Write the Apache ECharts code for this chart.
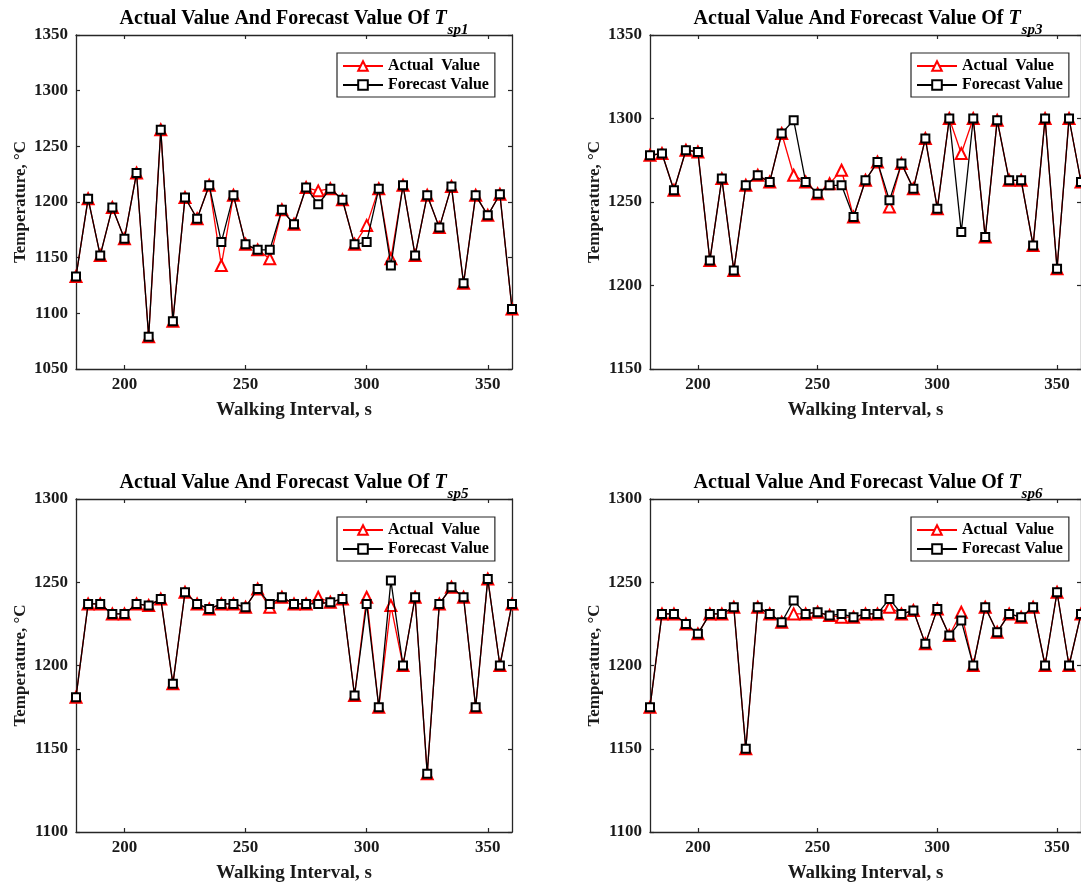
<!DOCTYPE html>
<html><head><meta charset="utf-8">
<script src="https://cdn.jsdelivr.net/npm/echarts@6/dist/echarts.min.js"></script>
<style>html,body{margin:0;padding:0;background:#fff}#c{width:1081px;height:886px}</style>
</head><body><div id="c"></div>
<script>
// ---- data ----
const walkTime = [180,185,190,195,200,205,210,215,220,225,230,235,240,245,250,255,260,265,270,275,280,285,290,295,300,305,310,315,320,325,330,335,340,345,350,355,360];
const xTicks = [200,250,300,350];
const sp1Actual   = [1133,1203,1152,1195,1167,1226,1079,1265,1093,1204,1185,1215,1143,1206,1162,1157,1149,1193,1180,1213,1210,1212,1202,1162,1179,1212,1149,1215,1152,1206,1177,1214,1127,1206,1188,1207,1104];
const sp1Forecast = [1133,1203,1152,1195,1167,1226,1079,1265,1093,1204,1185,1215,1164,1206,1162,1157,1157,1193,1180,1213,1198,1212,1202,1162,1164,1212,1143,1215,1152,1206,1177,1214,1127,1206,1188,1207,1104];
const sp3Actual   = [1278,1279,1257,1281,1280,1215,1264,1209,1260,1266,1262,1291,1266,1262,1255,1261,1269,1241,1263,1274,1247,1273,1258,1288,1246,1300,1279,1300,1229,1299,1263,1263,1224,1300,1210,1300,1262];
const sp3Forecast = [1278,1279,1257,1281,1280,1215,1264,1209,1260,1266,1262,1291,1299,1262,1255,1260,1260,1241,1263,1274,1251,1273,1258,1288,1246,1300,1232,1300,1229,1299,1263,1263,1224,1300,1210,1300,1262];
const sp5Actual   = [1181,1237,1237,1231,1231,1237,1236,1240,1189,1244,1237,1234,1237,1237,1235,1246,1235,1241,1237,1237,1241,1238,1240,1182,1241,1175,1236,1200,1241,1135,1237,1247,1241,1175,1252,1200,1237];
const sp5Forecast = [1181,1237,1237,1231,1231,1237,1236,1240,1189,1244,1237,1234,1237,1237,1235,1246,1237,1241,1237,1237,1237,1238,1240,1182,1237,1175,1251,1200,1241,1135,1237,1247,1241,1175,1252,1200,1237];
const sp6Actual   = [1175,1231,1231,1225,1219,1231,1231,1235,1150,1235,1231,1226,1231,1231,1232,1230,1229,1229,1231,1231,1235,1231,1233,1213,1234,1218,1232,1200,1235,1220,1231,1229,1235,1200,1244,1200,1231];
const sp6Forecast = [1175,1231,1231,1225,1219,1231,1231,1235,1150,1235,1231,1226,1239,1231,1232,1230,1231,1229,1231,1231,1240,1231,1233,1213,1234,1218,1227,1200,1235,1220,1231,1229,1235,1200,1244,1200,1231];
const seriesNames = ['Actual  Value','Forecast Value'];
const titlePrefix = 'Actual Value And Forecast Value Of ';
const xName = 'Walking Interval, s';
const yName = 'Temperature, °C';

// ---- layout ----
const FONT = '"Liberation Serif","Times New Roman",serif';
const AX = '#262626';
const TXT = '#1a1a1a';
const panels = [
  {sub:'sp1', actual:sp1Actual, forecast:sp1Forecast, yMin:1050, yMax:1350, left:76,  top:35,  h:334},
  {sub:'sp3', actual:sp3Actual, forecast:sp3Forecast, yMin:1150, yMax:1350, left:650, top:35,  h:334},
  {sub:'sp5', actual:sp5Actual, forecast:sp5Forecast, yMin:1100, yMax:1300, left:76,  top:499, h:333},
  {sub:'sp6', actual:sp6Actual, forecast:sp6Forecast, yMin:1100, yMax:1300, left:650, top:499, h:333}
];
const W = 436;

const grid = [], xAxis = [], yAxis = [], series = [], title = [], legend = [];
const lineAx = {show:true, lineStyle:{color:AX, width:1.3}};
const tickAx = {show:true, inside:true, length:4, lineStyle:{color:AX, width:1.2}};
const lblStyle = {color:TXT, fontFamily:FONT, fontWeight:'bold', fontSize:17};

panels.forEach((p, i) => {
  grid.push({left:p.left, top:p.top, width:W, height:p.h, containLabel:false});
  xAxis.push({type:'value', gridIndex:i, position:'bottom', min:180, max:360,
    axisLine:lineAx, axisTick:Object.assign({customValues:xTicks}, tickAx),
    axisLabel:Object.assign({customValues:xTicks, margin:7, formatter:v=>String(v)}, lblStyle),
    splitLine:{show:false},
    name:xName, nameLocation:'middle', nameGap:32,
    nameTextStyle:{color:TXT, fontFamily:FONT, fontWeight:'bold', fontSize:19}});
  xAxis.push({type:'value', gridIndex:i, position:'top', min:180, max:360,
    axisLine:lineAx, axisTick:Object.assign({customValues:xTicks}, tickAx),
    axisLabel:{show:false}, splitLine:{show:false}});
  yAxis.push({type:'value', gridIndex:i, position:'left', min:p.yMin, max:p.yMax, interval:50,
    axisLine:lineAx, axisTick:tickAx,
    axisLabel:Object.assign({margin:8, formatter:v=>String(v)}, lblStyle),
    splitLine:{show:false},
    name:yName, nameLocation:'middle', nameGap:47, nameRotate:90,
    nameTextStyle:{color:TXT, fontFamily:FONT, fontWeight:'bold', fontSize:17}});
  yAxis.push({type:'value', gridIndex:i, position:'right', min:p.yMin, max:p.yMax, interval:50,
    axisLine:lineAx, axisTick:tickAx, axisLabel:{show:false}, splitLine:{show:false}});

  series.push({type:'line', name:seriesNames[0], xAxisIndex:2*i, yAxisIndex:2*i,
    data:walkTime.map((t,k)=>[t, p.actual[k]]),
    symbol:'emptyTriangle', symbolSize:11, showAllSymbol:true,
    lineStyle:{color:'#ff0000', width:1.3}, itemStyle:{color:'#ff0000', borderWidth:1.3},
    z:2, animation:false});
  series.push({type:'line', name:seriesNames[1], xAxisIndex:2*i, yAxisIndex:2*i,
    data:walkTime.map((t,k)=>[t, p.forecast[k]]),
    symbol:'emptyRect', symbolSize:8, showAllSymbol:true,
    lineStyle:{color:'#000000', width:1.3}, itemStyle:{color:'#000000', borderWidth:1.2},
    z:3, animation:false});

  title.push({left:p.left + W/2, top:p.top - 26, textAlign:'center', padding:0,
    text:'{m|' + titlePrefix + '}{t|T}{s|' + p.sub + '}',
    textStyle:{rich:{
      m:{fontFamily:FONT, fontWeight:'bold', fontSize:20, lineHeight:22, verticalAlign:'top', color:'#000'},
      t:{fontFamily:FONT, fontWeight:'bold', fontStyle:'italic', fontSize:20, lineHeight:22, verticalAlign:'top', color:'#000'},
      s:{fontFamily:FONT, fontWeight:'bold', fontStyle:'italic', fontSize:15, lineHeight:14, padding:[14,0,0,1], verticalAlign:'top', color:'#000'}
    }}});

  legend.push({left:p.left + 261, top:p.top + 18, orient:'vertical', data:seriesNames,
    itemWidth:40, itemHeight:12, itemGap:3, padding:[5,6,4,5],
    borderColor:AX, borderWidth:1.2, backgroundColor:'#fff', selectedMode:false,
    textStyle:{color:'#000', fontFamily:FONT, fontWeight:'bold', fontSize:16}});
});

const chart = echarts.init(document.getElementById('c'), null, {renderer:'canvas'});
chart.setOption({animation:false, backgroundColor:'#fff', grid, xAxis, yAxis, series, title, legend});
</script>
</body></html>
